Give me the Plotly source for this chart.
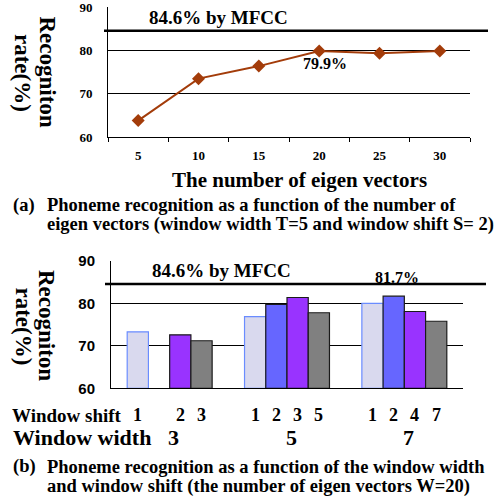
import plotly.graph_objects as go

# ---- data ----
eigen_counts = ["5", "10", "15", "20", "25", "30"]
eigen_rates = [63.8, 73.5, 76.4, 79.9, 79.4, 79.9]

window_widths = ["3", "5", "7"]
shift_labels = [["1", None, "2", "3"],
                ["1", "2", "3", "5"],
                ["1", "2", "4", "7"]]
slot_rates = [
    [73.3, 76.9, 80.0],   # first shift in each width
    [None, 79.8, 81.7],   # second
    [72.6, 81.4, 78.1],   # third
    [71.2, 77.8, 75.8],   # fourth
]
slot_fill = ["#D9D9EE", "#6666FF", "#9933FF", "#808080"]
slot_edge = ["#6A8CFF", "#1a1a1a", "#1a1a1a", "#1a1a1a"]

mfcc_rate = 84.6
y_ticks = [60, 70, 80, 90]

W, H = 501, 498
SERIF = "Liberation Serif"
SANS = "Liberation Sans"


def px(x):
    return x / W


def py(y):
    return 1 - y / H


fig = go.Figure()

# (a) recognition vs number of eigen vectors
fig.add_trace(go.Scatter(
    x=eigen_counts, y=eigen_rates, mode="lines+markers",
    line=dict(color="#A33C0A", width=2),
    marker=dict(symbol="diamond", size=10, color="#A33C0A"),
    xaxis="x", yaxis="y", showlegend=False, cliponaxis=False))

# (b) recognition vs window width / shift
BARGAP = 0.276
for k, vals in enumerate(slot_rates):
    fig.add_trace(go.Bar(
        x=window_widths, y=[None if v is None else v - 60 for v in vals], base=60,
        marker=dict(color=slot_fill[k], line=dict(color=slot_edge[k], width=1.2)),
        xaxis="x2", yaxis="y2", showlegend=False))

axis_common = dict(showgrid=False, zeroline=False, linecolor="black", linewidth=1,
                   automargin=False, ticklabeloverflow="allow")

fig.update_layout(
    width=W, height=H,
    margin=dict(l=0, r=0, t=0, b=0, autoexpand=False),
    paper_bgcolor="white", plot_bgcolor="white",
    barmode="group", bargap=BARGAP, bargroupgap=0,
    font=dict(family=SERIF, color="black"),
    xaxis=dict(axis_common, domain=[px(108), px(470)], anchor="y", type="category",
               range=[-0.5, 5.5], showline=True, ticks="outside", tickson="boundaries",
               ticklen=4, tickcolor="black", ticklabelstandoff=6,
               tickfont=dict(family=SERIF, size=13, weight="bold")),
    yaxis=dict(axis_common, domain=[py(137), py(7.3)], anchor="x", range=[60, 90],
               tickvals=y_ticks, showline=True, showgrid=True, gridcolor="black",
               gridwidth=1, ticks="", ticklabelstandoff=12,
               tickfont=dict(family=SERIF, size=13, weight="bold")),
    xaxis2=dict(axis_common, domain=[px(111), px(463)], anchor="y2", type="category",
                range=[-0.5, 2.5], showline=True, ticks="", showticklabels=False),
    yaxis2=dict(axis_common, domain=[py(388.3), py(261)], anchor="x2", range=[60, 90],
                tickvals=y_ticks, showline=True, showgrid=True, gridcolor="black",
                gridwidth=1, ticks="", ticklabelstandoff=12,
                tickfont=dict(family=SANS, size=15, weight="bold")),
)

# MFCC reference lines, running a little past the plot areas
fig.add_shape(type="line", xref="paper", yref="y", x0=px(104), x1=px(488),
              y0=mfcc_rate, y1=mfcc_rate, line=dict(color="black", width=2.5))
fig.add_shape(type="line", xref="paper", yref="y2", x0=px(105), x1=px(486),
              y0=mfcc_rate, y1=mfcc_rate, line=dict(color="black", width=2.5))

ann = []


def bold(s):
    return dict(family=SERIF, size=s, color="black", weight="bold")


def label(text, x, y, size, xref="paper", yref="paper", xanchor="center",
          yanchor="middle", **kw):
    ann.append(dict(text=text, x=x, y=y, xref=xref, yref=yref, xanchor=xanchor,
                    yanchor=yanchor, showarrow=False, font=bold(size), **kw))


for yref, xc in (("y", 218), ("y2", 221)):
    label(f"{mfcc_rate}% by MFCC", px(xc), mfcc_rate, 19, yref=yref,
          yanchor="bottom", yshift=1)

# value labels
best_a = eigen_counts.index("20")
label(f"{eigen_rates[best_a]}%", best_a, eigen_rates[best_a], 16, xref="x", yref="y",
      xshift=6, yshift=-13)

slot_w = (1 - BARGAP) / len(slot_rates)


def slot_x(g, k):
    return g + (k - (len(slot_rates) - 1) / 2) * slot_w


best_b = slot_rates[1][2]
label(f"{best_b}%", slot_x(2, 1), best_b, 16, xref="x2", yref="y2",
      yanchor="bottom", xshift=3, yshift=8)

# y-axis titles, reading top to bottom, one rotated line each
for yc in (71.5, 325):
    label("Recogniton", px(47), py(yc), 23, textangle=90)
    label("rate(%)", px(23), py(yc + 1.5), 23, textangle=90)

# x-axis title of (a)
label("The number of eigen vectors", px(299), py(180), 21)

# window shift / window width labels of (b)
label("Window shift", px(10), py(415), 19, xanchor="left")
label("Window width", px(11), py(437.5), 22, xanchor="left")
for g, labels in enumerate(shift_labels):
    for k, lab in enumerate(labels):
        if lab is not None:
            label(lab, slot_x(g, k), py(415), 18, xref="x2")
    label(window_widths[g], g, py(437.5), 22, xref="x2", xshift=4)

# captions
captions = [
    ("(a)", "Phoneme recognition as a function of the number of",
     "eigen vectors (window width T=5 and window shift S= 2)", 205, 224),
    ("(b)", "Phoneme recognition as a function of the window width",
     "and window shift (the number of eigen vectors W=20)", 466.5, 486.5),
]
for tag, l1, l2, y1, y2 in captions:
    label(tag, px(11), py(y1), 18.5, xanchor="left")
    label(l1, px(45), py(y1), 18.5, xanchor="left")
    label(l2, px(45), py(y2), 18.5, xanchor="left")

fig.update_layout(annotations=ann)
fig.write_html("out.html")
